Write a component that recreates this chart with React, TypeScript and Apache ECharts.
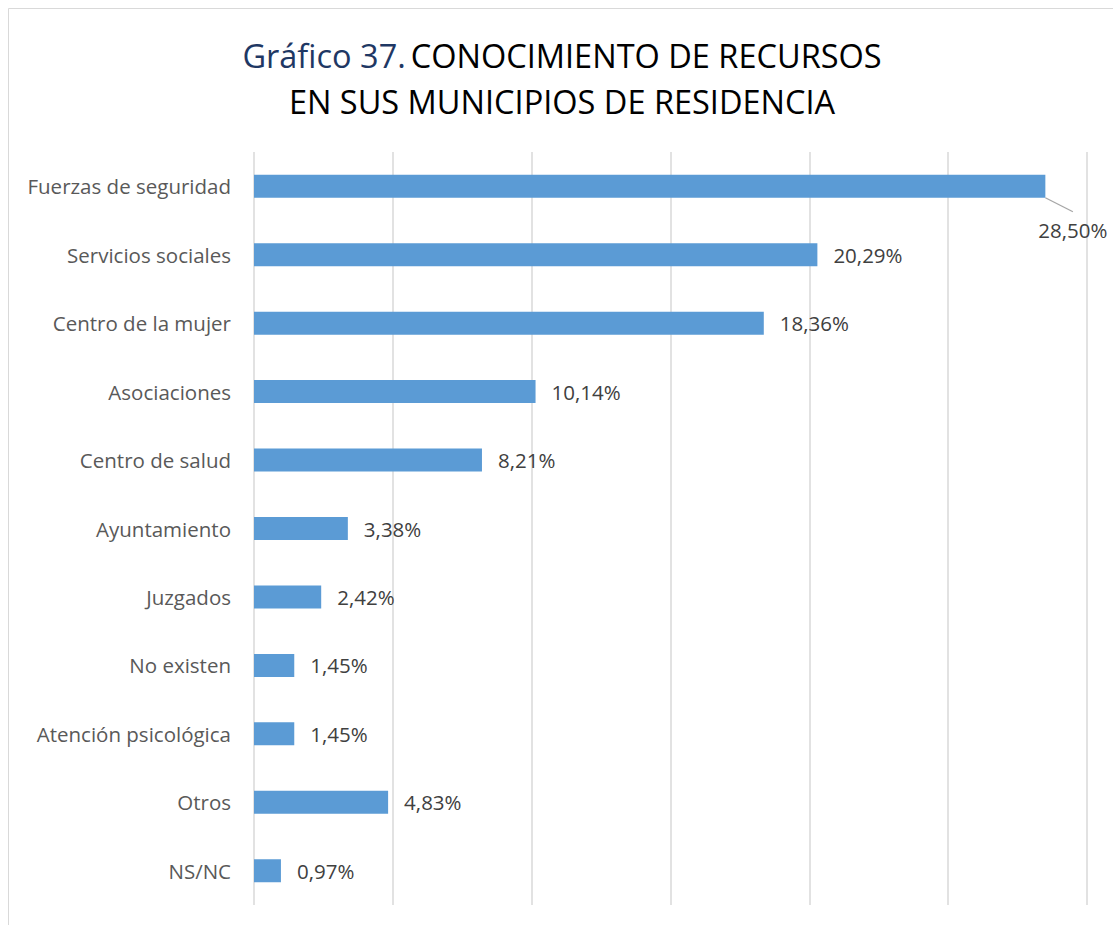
import React, { useEffect, useRef } from "react";
import * as echarts from "echarts";

const categories = [
  "Fuerzas de seguridad",
  "Servicios sociales",
  "Centro de la mujer",
  "Asociaciones",
  "Centro de salud",
  "Ayuntamiento",
  "Juzgados",
  "No existen",
  "Atención psicológica",
  "Otros",
  "NS/NC",
];
const values = [28.5, 20.29, 18.36, 10.14, 8.21, 3.38, 2.42, 1.45, 1.45, 4.83, 0.97];
const titleBlue = "Gráfico 37.";
const titleRest1 = "CONOCIMIENTO DE RECURSOS";
const titleLine2 = "EN SUS MUNICIPIOS DE RESIDENCIA";

const FONT = "Open Sans";

export default function App() {
  const ref = useRef<HTMLDivElement>(null);
  useEffect(() => {
    if (!ref.current) return;
    const chart = echarts.init(ref.current, undefined, { renderer: "svg" });
    chart.setOption({
      animation: false,
      backgroundColor: "#ffffff",
      graphic: [
        {
          type: "rect",
          shape: { x: 8.5, y: 8.5, width: 1120, height: 940 },
          style: { fill: "none", stroke: "#d9d9d9", lineWidth: 1 },
          silent: true,
        },
      ],
      title: {
        text:
          "{a|" + titleBlue + "} {b|" + titleRest1 + "}\n{b|" + titleLine2 + "}",
        left: 557,
        textAlign: "center",
        top: 27,
        textStyle: {
          fontWeight: "normal",
          rich: {
            a: { color: "#1f3864", fontSize: 32.5, fontFamily: FONT, fontWeight: "normal", lineHeight: 46 },
            b: { color: "#000000", fontSize: 32.5, fontFamily: FONT, fontWeight: "normal", lineHeight: 46 },
          },
        },
      },
      grid: { left: 254, right: 26, top: 152, bottom: 20, containLabel: false },
      xAxis: {
        type: "value",
        min: 0,
        max: 30,
        interval: 5,
        axisLabel: { show: false },
        axisLine: { show: false },
        axisTick: { show: false },
        splitLine: { show: true, lineStyle: { color: "#d9d9d9", width: 1.5 } },
      },
      yAxis: {
        type: "category",
        inverse: true,
        data: categories,
        axisLine: { show: false },
        axisTick: { show: false },
        axisLabel: {
          color: "#595959",
          fontSize: 20.5,
          fontFamily: FONT,
          margin: 23,
        },
      },
      series: [
        {
          type: "bar",
          data: values.map((v, i) =>
            i === 0
              ? {
                  value: v,
                  label: { padding: [8, 0, 8, 0], backgroundColor: "rgba(255,255,255,0)" },
                  labelLine: {
                    show: true,
                    length2: 0,
                    lineStyle: { color: "#a6a6a6", width: 1.3 },
                  },
                }
              : { value: v }
          ),
          barWidth: 23,
          itemStyle: { color: "#5b9bd5" },
          label: {
            show: true,
            position: "right",
            distance: 16,
            color: "#404040",
            fontSize: 20.5,
            fontFamily: FONT,
            formatter: (p: any) => p.value.toFixed(2).replace(".", ",") + "%",
          },
          labelLine: { show: false },
          labelLayout: (p: any) =>
            p.dataIndex === 0 ? { dx: -23, dy: 44 } : {},
        },
      ],
    });
    return () => chart.dispose();
  }, []);
  return (
    <div
      ref={ref}
      style={{ position: "fixed", left: 0, top: 0, width: 1113, height: 925 }}
    />
  );
}
